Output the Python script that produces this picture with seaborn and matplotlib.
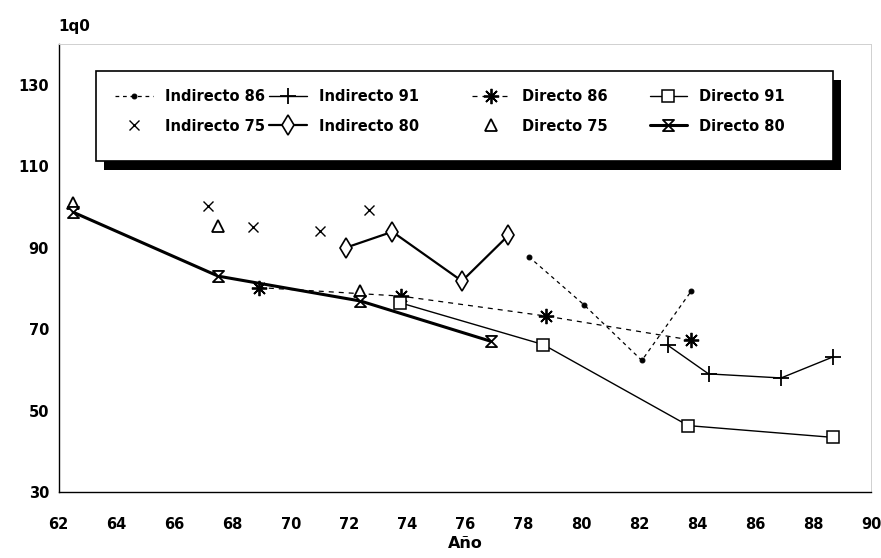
import matplotlib
matplotlib.use("Agg")
import matplotlib.pyplot as plt
import seaborn as sns
from matplotlib.path import Path
from matplotlib.patches import Rectangle

# Values (year, 1q0)
ind86_x = [78.2, 80.1, 82.1, 83.8]
ind86_y = [87.8, 76.0, 62.3, 79.3]
ind91_x = [83.0, 84.4, 86.9, 88.7]
ind91_y = [66.0, 59.0, 58.0, 63.2]
dir86_x = [68.9, 73.8, 78.8, 83.8]
dir86_y = [80.2, 78.1, 73.2, 67.3]
dir91_x = [73.75, 78.7, 83.7, 88.7]
dir91_y = [76.5, 66.2, 46.3, 43.4]
ind75_x = [67.15, 68.7, 71.0, 72.7]
ind75_y = [100.3, 95.0, 94.1, 99.3]
ind80_x = [71.9, 73.5, 75.9, 77.5]
ind80_y = [90.0, 93.9, 81.8, 93.0]
dir75_x = [62.5, 67.5, 72.4]
dir75_y = [101.0, 95.3, 79.3]
dir80_x = [62.5, 67.5, 72.4, 76.9]
dir80_y = [98.7, 83.0, 76.9, 67.0]

x_ticks = list(range(62, 91, 2))
y_ticks = [30, 50, 70, 90, 110, 130]
# legend is filled column by column: left half and right half
legend_left = ["Indirecto 86", "Indirecto 75", "Indirecto 91", "Indirecto 80"]
legend_right = ["Directo 86", "Directo 75", "Directo 91", "Directo 80"]

sns.set_style("white")
plt.rcParams["font.family"] = ["DejaVu Sans"]
plt.rcParams["font.weight"] = "bold"
plt.rcParams["text.color"] = "black"
plt.rcParams["axes.labelcolor"] = "black"

# hourglass marker for Directo 80
hourglass = Path([(-1, 1), (1, 1), (-1, -1), (1, -1), (-1, 1)],
                 [Path.MOVETO, Path.LINETO, Path.LINETO, Path.LINETO, Path.CLOSEPOLY])

fig = plt.figure(figsize=(8.81, 5.58), dpi=100)
ax = fig.add_axes([0.0666, 0.1183, 0.9221, 0.8028])

common = dict(ax=ax, color="black", estimator=None, legend=False)

sns.lineplot(x=ind86_x, y=ind86_y, label="Indirecto 86", linewidth=0.9,
             linestyle=(0, (3, 3)), marker="o", markersize=3.5,
             markerfacecolor="black", markeredgecolor="black", **common)
sns.lineplot(x=ind91_x, y=ind91_y, label="Indirecto 91", linewidth=1.0,
             marker="+", markersize=12, markeredgewidth=1.3,
             markeredgecolor="black", **common)
sns.lineplot(x=dir86_x, y=dir86_y, label="Directo 86", linewidth=0.9,
             linestyle=(0, (4, 4)), marker=(8, 2, 0), markersize=11,
             markeredgewidth=1.3, markeredgecolor="black", **common)
sns.lineplot(x=dir91_x, y=dir91_y, label="Directo 91", linewidth=1.0,
             marker="s", markersize=8, markerfacecolor="white",
             markeredgewidth=1.1, markeredgecolor="black", **common)
sns.lineplot(x=ind75_x, y=ind75_y, label="Indirecto 75", linestyle="none",
             marker="x", markersize=7.5, markeredgewidth=1.0,
             markeredgecolor="black", **common)
sns.lineplot(x=ind80_x, y=ind80_y, label="Indirecto 80", linewidth=1.6,
             marker="d", markersize=10, markerfacecolor="white",
             markeredgewidth=1.2, markeredgecolor="black", **common)
sns.lineplot(x=dir75_x, y=dir75_y, label="Directo 75", linestyle="none",
             marker="^", markersize=9, markerfacecolor="white",
             markeredgewidth=1.3, markeredgecolor="black", **common)
sns.lineplot(x=dir80_x, y=dir80_y, label="Directo 80", linewidth=2.2,
             marker=hourglass, markersize=8, markerfacecolor="white",
             markeredgewidth=1.3, markeredgecolor="black", **common)

ax.set_xlim(62, 90)
ax.set_ylim(30, 140)
ax.set_xticks(x_ticks)
ax.set_yticks(y_ticks)
ax.tick_params(axis="x", direction="out", length=4, width=0.8, pad=14,
               labelsize=10.5, colors="black")
ax.tick_params(axis="y", length=0, pad=7, labelsize=10.5, colors="black")
for lab in ax.get_xticklabels() + ax.get_yticklabels():
    lab.set_fontweight("bold")

for side in ["left", "bottom"]:
    ax.spines[side].set_color("black")
    ax.spines[side].set_linewidth(1.0)
for side in ["top", "right"]:
    ax.spines[side].set_color("#d0d0d0")
    ax.spines[side].set_linewidth(0.7)

ax.set_xlabel("Año", fontsize=11.5, fontweight="bold", labelpad=3)
ax.set_ylabel("")
ax.annotate("1q0", xy=(0, 1), xycoords="axes fraction", xytext=(0, 7),
            textcoords="offset points", ha="left", va="bottom",
            fontsize=11, fontweight="bold")

handles, labels = ax.get_legend_handles_labels()
lookup = dict(zip(labels, handles))
leg_kw = dict(ncol=2, loc="upper left", borderaxespad=0, borderpad=0,
              handlelength=2.6, handletextpad=0.8, labelspacing=1.0,
              frameon=False, prop={"size": 10.5, "weight": "bold"})

leg1 = ax.legend([lookup[k] for k in legend_left], legend_left,
                 bbox_to_anchor=(0.0693, 0.8996), columnspacing=0.3, **leg_kw)
leg1.set_zorder(6)
ax.add_artist(leg1)
leg2 = ax.legend([lookup[k] for k in legend_right], legend_right,
                 bbox_to_anchor=(0.5088, 0.8996), columnspacing=2.9, **leg_kw)
leg2.set_zorder(6)

# legend box with heavy drop shadow
box_x0, box_y0, box_w, box_h = 0.0459, 0.7388, 0.9074, 0.2009
dx, dy = 8 / 812.3, 9 / 448.0
ax.add_patch(Rectangle((box_x0 + dx, box_y0 - dy), box_w, box_h,
                       transform=ax.transAxes, facecolor="black",
                       edgecolor="none", zorder=5, clip_on=False))
ax.add_patch(Rectangle((box_x0, box_y0), box_w, box_h,
                       transform=ax.transAxes, facecolor="white",
                       edgecolor="black", linewidth=1.2, zorder=5.5,
                       clip_on=False))

fig.savefig("out.png", dpi=100)
